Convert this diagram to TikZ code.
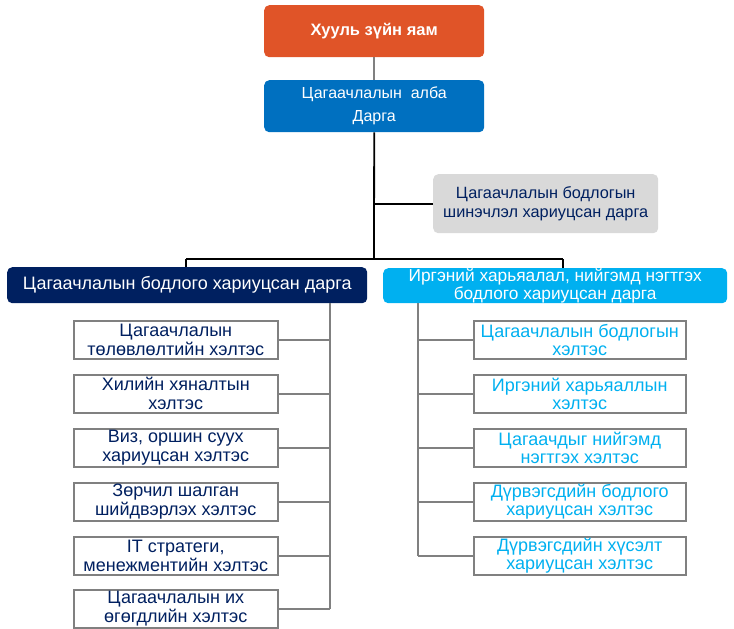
\documentclass[tikz,border=0pt]{standalone}
\usepackage{fontspec}
\setmainfont{Liberation Sans}
\usetikzlibrary{calc}

\definecolor{yamorange}{RGB}{224,84,40}
\definecolor{albablue}{RGB}{0,112,192}
\definecolor{darknavy}{RGB}{0,32,96}
\definecolor{lightcyan}{RGB}{0,176,240}
\definecolor{boxgray}{RGB}{217,217,217}
\definecolor{linegray}{RGB}{128,128,128}

\tikzset{
  yambox/.style={fill=yamorange, rounded corners=5pt, anchor=north west, inner sep=0pt,
    minimum width=220pt, minimum height=52pt, text=white, align=center,
    font=\bfseries\fontsize{16.5}{19}\selectfont},
  albabox/.style={yambox, fill=albablue, font=\fontsize{16}{23}\selectfont},
  shinebox/.style={yambox, fill=boxgray, minimum width=225pt, minimum height=59pt,
    text=darknavy, font=\fontsize{16.3}{19}\selectfont},
  leftboss/.style={yambox, fill=darknavy, minimum width=360pt, minimum height=36pt,
    font=\fontsize{18}{20}\selectfont},
  rightboss/.style={yambox, fill=lightcyan, minimum width=344pt, minimum height=35pt,
    font=\fontsize{17.3}{18.5}\selectfont},
  lunit/.style={draw=linegray, line width=1.5pt, fill=white, anchor=north west, inner sep=0pt,
    minimum width=204pt, minimum height=38pt, align=center, text=darknavy,
    font=\fontsize{18}{19}\selectfont},
  runit/.style={lunit, minimum width=212pt, text=lightcyan, font=\fontsize{18}{18.5}\selectfont},
  blacklink/.style={black, line width=1.8pt},
  graylink/.style={linegray, line width=1.8pt}
}

\begin{document}
\begin{tikzpicture}[x=1pt, y=-1pt]
  \useasboundingbox (0,0) rectangle (734,629);

  \node[yambox] (yam) at (264,5) {Хууль зүйн яам};
  \node[albabox] (alba) at (264,80) {Цагаачлалын\ \ алба\\Дарга};
  \node[shinebox] (shine) at (433,174) {Цагаачлалын бодлогын\\шинэчлэл хариуцсан дарга};
  \node[leftboss] (bodlogo) at (7,267) {Цагаачлалын бодлого хариуцсан дарга};
  \node[rightboss] (irgen) at (383,268) {Иргэний харьяалал, нийгэмд нэгтгэх\\бодлого хариуцсан дарга};

  \node[lunit] (l1) at (73,320) {Цагаачлалын\\төлөвлөлтийн хэлтэс};
  \node[lunit] (l2) at (73,374) {Хилийн хяналтын\\хэлтэс};
  \node[lunit] (l3) at (73,428) {Виз, оршин суух\\хариуцсан хэлтэс};
  \node[lunit] (l4) at (73,482) {Зөрчил шалган\\шийдвэрлэх хэлтэс};
  \node[lunit] (l5) at (73,536) {IT стратеги,\\менежментийн хэлтэс};
  \node[lunit] (l6) at (73,589) {Цагаачлалын их\\өгөгдлийн хэлтэс};

  \node[runit] (r1) at (473,320) {Цагаачлалын бодлогын\\хэлтэс};
  \node[runit] (r2) at (473,374) {Иргэний харьяаллын\\хэлтэс};
  \node[runit] (r3) at (473,428) {Цагаачдыг нийгэмд\\нэгтгэх хэлтэс};
  \node[runit] (r4) at (473,482) {Дүрвэгсдийн бодлого\\хариуцсан хэлтэс};
  \node[runit] (r5) at (473,536) {Дүрвэгсдийн хүсэлт\\хариуцсан хэлтэс};

  \draw[graylink] (yam.south) -- (alba.north);

  \coordinate (split) at (374,259);
  \coordinate (ldrop) at (186,259);
  \coordinate (rdrop) at (563,259);
  \draw[blacklink] (alba.south) -- (split);
  \draw[blacklink] (ldrop) -- (rdrop);
  \draw[blacklink] (ldrop) -- (ldrop |- bodlogo.north);
  \draw[blacklink] (rdrop) -- (rdrop |- irgen.north);
  \draw[blacklink] (shine.west) -- (shine.west -| split);

  \coordinate (lbus) at (330,303);
  \draw[graylink] (lbus) -- (lbus |- l6.east);
  \draw[graylink] (l1.east) -- (l1.east -| lbus);
  \draw[graylink] (l2.east) -- (l2.east -| lbus);
  \draw[graylink] (l3.east) -- (l3.east -| lbus);
  \draw[graylink] (l4.east) -- (l4.east -| lbus);
  \draw[graylink] (l5.east) -- (l5.east -| lbus);
  \draw[graylink] (l6.east) -- (l6.east -| lbus);

  \coordinate (rbus) at (418,303);
  \draw[graylink] (rbus) -- (rbus |- r5.west);
  \draw[graylink] (r1.west) -- (r1.west -| rbus);
  \draw[graylink] (r2.west) -- (r2.west -| rbus);
  \draw[graylink] (r3.west) -- (r3.west -| rbus);
  \draw[graylink] (r4.west) -- (r4.west -| rbus);
  \draw[graylink] (r5.west) -- (r5.west -| rbus);
\end{tikzpicture}
\end{document}
